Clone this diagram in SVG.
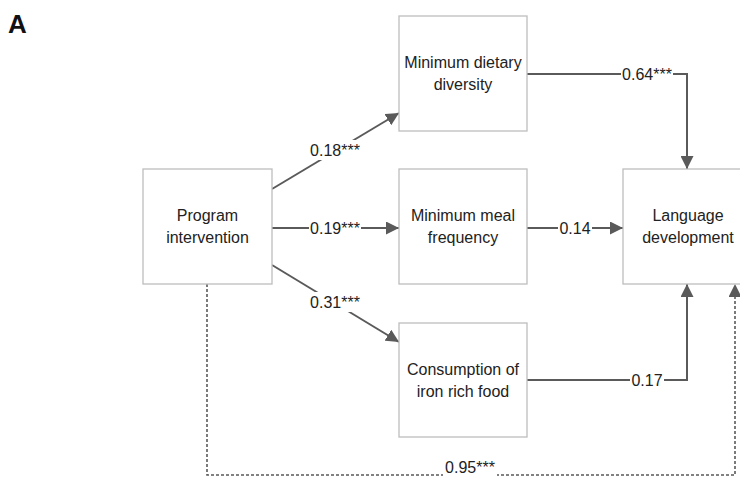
<svg xmlns="http://www.w3.org/2000/svg" width="740" height="477" viewBox="0 0 740 477">
<defs>
<style>
.box{fill:#fff;stroke:#bdbdbd;stroke-width:1.3}
.t{font-family:"Liberation Sans",Arial,sans-serif;font-size:16px;fill:#222;text-anchor:middle}
.c{fill:none;stroke:#5a5a5a;stroke-width:2}
.d{fill:none;stroke:#5a5a5a;stroke-width:1.6;stroke-dasharray:3 2}
.bg{fill:#fff}
</style>
<marker id="ah" markerUnits="userSpaceOnUse" markerWidth="14" markerHeight="13" refX="13" refY="6.5" orient="auto">
<path d="M0,0 L13,6.5 L0,13 z" fill="#5a5a5a"/>
</marker>
</defs>
<rect width="740" height="477" fill="#fff"/>
<text x="8" y="33" font-family="Liberation Sans,Arial,sans-serif" font-size="26" font-weight="bold" fill="#111">A</text>

<g id="connectors">
<line class="c" x1="272" y1="189" x2="399" y2="113" marker-end="url(#ah)"/>
<line class="c" x1="272" y1="228" x2="399" y2="228" marker-end="url(#ah)"/>
<line class="c" x1="272" y1="265" x2="399" y2="342" marker-end="url(#ah)"/>
<line class="c" x1="527" y1="228" x2="623" y2="228" marker-end="url(#ah)"/>
<polyline class="c" points="527,74 687,74 687,169" marker-end="url(#ah)"/>
<polyline class="c" points="527,380 687,380 687,284" marker-end="url(#ah)"/>
<polyline class="d" points="207,284 207,475 735,475 735,284" marker-end="url(#ah)"/>
<rect class="bg" x="308" y="140" width="54" height="20"/>
<text class="t" x="335" y="156">0.18***</text>
<rect class="bg" x="309" y="218" width="52" height="20"/>
<text class="t" x="335" y="234">0.19***</text>
<rect class="bg" x="308" y="292" width="54" height="20"/>
<text class="t" x="335" y="308">0.31***</text>
<rect class="bg" x="558" y="218" width="34" height="20"/>
<text class="t" x="575" y="234">0.14</text>
<rect class="bg" x="621" y="64" width="52" height="20"/>
<text class="t" x="647" y="80">0.64***</text>
<rect class="bg" x="630" y="370" width="34" height="20"/>
<text class="t" x="647" y="386">0.17</text>
<rect class="bg" x="443" y="461" width="54" height="16"/>
<text class="t" x="470" y="473">0.95***</text>
</g>

<g id="program">
<rect class="box" x="143" y="169" width="129" height="115"/>
<text class="t" x="207.5" y="221">Program</text>
<text class="t" x="207.5" y="243">intervention</text>
</g>
<g id="dietary">
<rect class="box" x="399" y="16" width="128" height="115"/>
<text class="t" x="463" y="68">Minimum dietary</text>
<text class="t" x="463" y="90">diversity</text>
</g>
<g id="meal">
<rect class="box" x="399" y="169" width="128" height="115"/>
<text class="t" x="463" y="221">Minimum meal</text>
<text class="t" x="463" y="243">frequency</text>
</g>
<g id="iron">
<rect class="box" x="399" y="323" width="128" height="114"/>
<text class="t" x="463" y="375">Consumption of</text>
<text class="t" x="463" y="397">iron rich food</text>
</g>
<g id="language">
<rect class="box" x="623" y="169" width="130" height="115"/>
<text class="t" x="688" y="221">Language</text>
<text class="t" x="688" y="243">development</text>
</g>
</svg>
